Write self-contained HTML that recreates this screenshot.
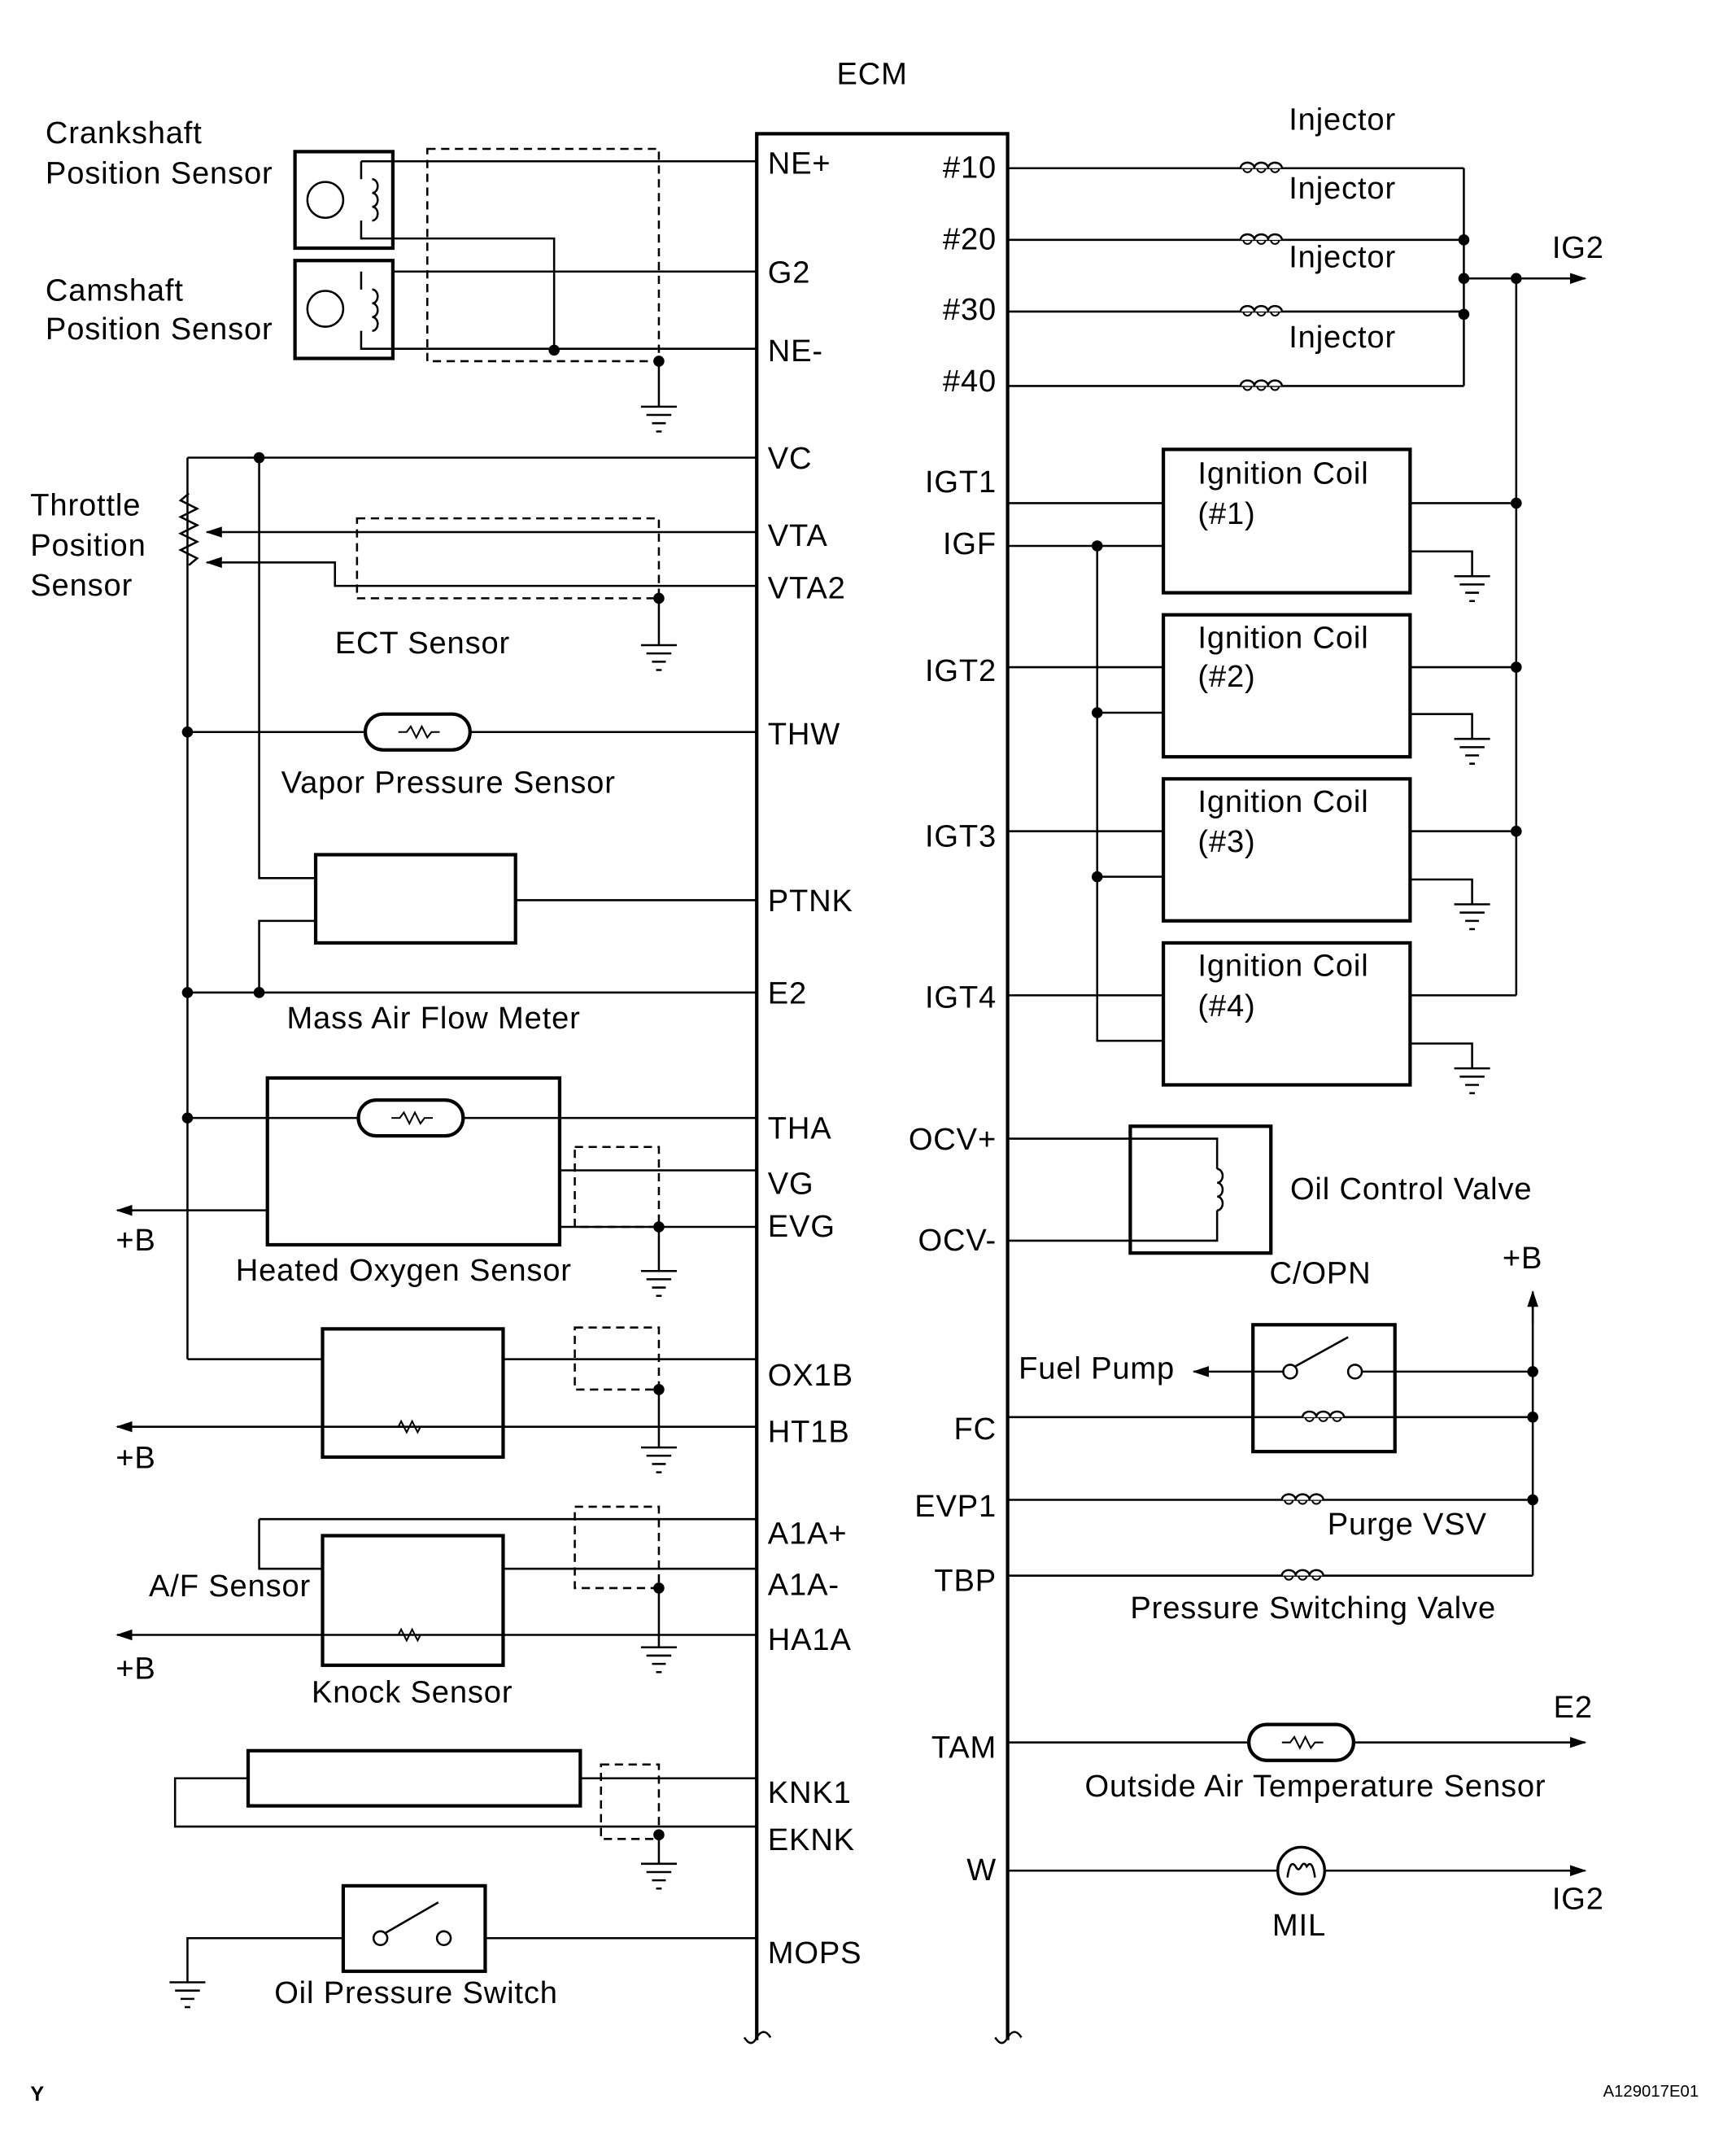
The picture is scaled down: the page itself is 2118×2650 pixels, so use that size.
<!DOCTYPE html>
<html><head><meta charset="utf-8"><style>
html,body{margin:0;padding:0;background:#fff}
svg{display:block}
text{font-family:"Liberation Sans",Arial,sans-serif;font-size:22.5px;letter-spacing:0.5px;fill:#000}
</style></head><body>
<svg width="2118" height="2650" viewBox="0 0 1250 1564" xmlns="http://www.w3.org/2000/svg">
<defs>
<symbol id="gnd" overflow="visible"><path d="M-13,0H13M-9,6H9M-5,12H5M-2,18H2" stroke="#000" stroke-width="1.5" fill="none"/></symbol>
<symbol id="coilh" overflow="visible"><path d="M0,0 a5,4 0 1,1 10,0 a5,4 0 1,1 10,0 a5,4 0 1,1 10,0" stroke="#000" stroke-width="1.5" fill="#fff"/><path d="M2,0 a3,3 0 1,0 6,0 M12,0 a3,3 0 1,0 6,0 M22,0 a3,3 0 1,0 6,0" stroke="#000" stroke-width="1.2" fill="none"/></symbol>
<symbol id="coilv" overflow="visible"><path d="M0,0 a4,5 0 1,1 0,10 a4,5 0 1,1 0,10 a4,5 0 1,1 0,10" stroke="#000" stroke-width="1.5" fill="#fff"/></symbol>
<symbol id="therm" overflow="visible"><rect x="0" y="-13" width="76" height="26" rx="13" fill="#fff" stroke="#000" stroke-width="2.5"/><path d="M24,0h6l3,-4l4,8l4,-8l4,8l3,-4h6" stroke="#000" fill="none" stroke-width="1.2"/></symbol>
<symbol id="res" overflow="visible"><path d="M-12,0h4l2,-4l4,8l4,-8l4,8l2,-4h4" stroke="#000" fill="none" stroke-width="1.2"/></symbol>
<marker id="ar" markerWidth="12" markerHeight="8" refX="11" refY="4" orient="auto" markerUnits="userSpaceOnUse"><path d="M0,0L12,4L0,8z" fill="#000"/></marker>
</defs>
<g stroke="#000" stroke-width="1.5" fill="none">
<path d="M549,1480V97H731V1480" stroke-width="2.5"/>
<path d="M540,1478q5,8 9,0q5,-8 10,0M722,1478q5,8 9,0q5,-8 10,0"/>
<rect x="214" y="110" width="71" height="70" stroke-width="2.5"/>
<rect x="214" y="189" width="71" height="71" stroke-width="2.5"/>
<circle cx="236" cy="145" r="13"/><circle cx="236" cy="224" r="13"/>
<path d="M262,117H549M262,117V130M262,160V173H402V254M262,197V210M262,240V253H549M285,197H549"/>
<rect x="310" y="108" width="168" height="154" stroke-dasharray="6,4"/>
<path d="M478,262V295"/>
<path d="M136,332H549M136,332V986M188,332V637H229M229,668H188V720M136,720H549M136,531H549M136,811H549M136,986H234"/>
<path d="M137,358l-6,5l12,6l-12,6l12,6l-12,6l12,6l-12,6l12,6l-6,5"/>
<path d="M549,386H150" marker-end="url(#ar)"/>
<path d="M549,425H243V408H150" marker-end="url(#ar)"/>
<rect x="259" y="376" width="219" height="58" stroke-dasharray="6,4"/>
<path d="M478,434V468"/>
<rect x="229" y="620" width="145" height="64" stroke-width="2.5"/>
<path d="M374,653H549"/>
<rect x="194" y="782" width="212" height="121" stroke-width="2.5"/>
<path d="M406,849H549M406,890H549"/>
<path d="M194,878H85" marker-end="url(#ar)"/>
<rect x="417" y="832" width="61" height="58" stroke-dasharray="6,4"/>
<path d="M478,890V922"/>
<rect x="234" y="964" width="131" height="93" stroke-width="2.5"/>
<path d="M365,986H549"/>
<path d="M549,1035H85" marker-end="url(#ar)"/>
<rect x="417" y="963" width="61" height="45" stroke-dasharray="6,4"/>
<path d="M478,1008V1050"/>
<rect x="234" y="1114" width="131" height="94" stroke-width="2.5"/>
<path d="M188,1102H549M188,1102V1138H234M365,1138H549"/>
<path d="M549,1186H85" marker-end="url(#ar)"/>
<rect x="417" y="1093" width="61" height="59" stroke-dasharray="6,4"/>
<path d="M478,1152V1195"/>
<rect x="180" y="1270" width="241" height="40" stroke-width="2.5"/>
<path d="M421,1290H549M180,1290H127V1325H549"/>
<rect x="436" y="1280" width="42" height="54" stroke-dasharray="6,4"/>
<path d="M478,1331V1352"/>
<rect x="249" y="1368" width="103" height="62" stroke-width="2.5"/>
<path d="M352,1406H549M249,1406H136V1438M280,1402L318,1380"/>
<circle cx="276" cy="1406" r="5" fill="#fff"/><circle cx="322" cy="1406" r="5" fill="#fff"/>
<path d="M731,122H1062M731,174H1062M731,226H1062M731,280H1062M1062,122V280M1062,202H1100"/>
<path d="M1100,202H1150" marker-end="url(#ar)"/>
<path d="M1100,202V722"/>
<rect x="844" y="326" width="179" height="104" stroke-width="2.5"/>
<rect x="844" y="446" width="179" height="103" stroke-width="2.5"/>
<rect x="844" y="565" width="179" height="103" stroke-width="2.5"/>
<rect x="844" y="684" width="179" height="103" stroke-width="2.5"/>
<path d="M731,365H844M731,396H844M796,396V755H844M796,517H844M796,636H844M731,484H844M731,603H844M731,722H844"/>
<path d="M1023,365H1100M1023,484H1100M1023,603H1100M1023,722H1100"/>
<path d="M1023,400H1068V418M1023,518H1068V536M1023,638H1068V656M1023,757H1068V775"/>
<rect x="820" y="817" width="102" height="92" stroke-width="2.5"/>
<path d="M731,826H883V848M883,878V900H731"/>
<rect x="909" y="961" width="103" height="92" stroke-width="2.5"/>
<path d="M1112,1143V940"/>
<path d="M1112,960V937" marker-end="url(#ar)"/>
<path d="M983,995H1112M731,1028H1112M731,1088H1112M731,1143H1112M940,991L978,970"/>
<path d="M931,995H866" marker-end="url(#ar)"/>
<circle cx="936" cy="995" r="5" fill="#fff"/><circle cx="983" cy="995" r="5" fill="#fff"/>
<path d="M731,1264H1150" marker-end="url(#ar)"/>
<path d="M731,1357H1150" marker-end="url(#ar)"/>
<circle cx="944" cy="1357" r="17" fill="#fff" stroke-width="2"/>
<path d="M934,1362q2,-14 6,-8q2,4 4,0q2,-4 4,0q4,-6 6,8"/>
</g>
<use href="#coilv" x="270" y="130"/><use href="#coilv" x="270" y="210"/>
<use href="#coilv" x="883" y="848"/>
<use href="#coilh" x="900" y="122"/><use href="#coilh" x="900" y="174"/><use href="#coilh" x="900" y="226"/><use href="#coilh" x="900" y="280"/>
<use href="#coilh" x="945" y="1028"/><use href="#coilh" x="930" y="1088"/><use href="#coilh" x="930" y="1143"/>
<use href="#therm" x="265" y="531"/><use href="#therm" x="260" y="811"/><use href="#therm" x="906" y="1264"/>
<use href="#res" x="297" y="1035"/><use href="#res" x="297" y="1186"/>
<use href="#gnd" x="478" y="295"/><use href="#gnd" x="478" y="468"/><use href="#gnd" x="478" y="922"/><use href="#gnd" x="478" y="1050"/><use href="#gnd" x="478" y="1195"/><use href="#gnd" x="478" y="1352"/><use href="#gnd" x="136" y="1438"/>
<use href="#gnd" x="1068" y="418"/><use href="#gnd" x="1068" y="536"/><use href="#gnd" x="1068" y="656"/><use href="#gnd" x="1068" y="775"/>
<g fill="#000">
<circle cx="402" cy="254" r="4"/><circle cx="478" cy="262" r="4"/><circle cx="188" cy="332" r="4"/><circle cx="478" cy="434" r="4"/>
<circle cx="136" cy="531" r="4"/><circle cx="136" cy="720" r="4"/><circle cx="188" cy="720" r="4"/><circle cx="136" cy="811" r="4"/>
<circle cx="478" cy="890" r="4"/><circle cx="478" cy="1008" r="4"/><circle cx="478" cy="1152" r="4"/><circle cx="478" cy="1331" r="4"/>
<circle cx="1062" cy="174" r="4"/><circle cx="1062" cy="228" r="4"/><circle cx="1062" cy="202" r="4"/><circle cx="1100" cy="202" r="4"/>
<circle cx="1100" cy="365" r="4"/><circle cx="1100" cy="484" r="4"/><circle cx="1100" cy="603" r="4"/>
<circle cx="796" cy="396" r="4"/><circle cx="796" cy="517" r="4"/><circle cx="796" cy="636" r="4"/>
<circle cx="1112" cy="995" r="4"/><circle cx="1112" cy="1028" r="4"/><circle cx="1112" cy="1088" r="4"/>
</g>
<text x="607" y="61">ECM</text>
<text x="33" y="104">Crankshaft</text><text x="33" y="133">Position Sensor</text>
<text x="33" y="218">Camshaft</text><text x="33" y="246">Position Sensor</text>
<text x="22" y="374">Throttle</text><text x="22" y="403">Position</text><text x="22" y="432">Sensor</text>
<text x="243" y="474">ECT Sensor</text>
<text x="204" y="575">Vapor Pressure Sensor</text>
<text x="208" y="746">Mass Air Flow Meter</text>
<text x="84" y="907">+B</text>
<text x="171" y="929">Heated Oxygen Sensor</text>
<text x="84" y="1065">+B</text>
<text x="108" y="1158">A/F Sensor</text>
<text x="84" y="1218">+B</text>
<text x="226" y="1235">Knock Sensor</text>
<text x="199" y="1453">Oil Pressure Switch</text>
<g>
<text x="557" y="126">NE+</text><text x="557" y="205">G2</text><text x="557" y="262">NE-</text>
<text x="557" y="340">VC</text><text x="557" y="396">VTA</text><text x="557" y="434">VTA2</text>
<text x="557" y="540">THW</text><text x="557" y="661">PTNK</text><text x="557" y="728">E2</text>
<text x="557" y="826">THA</text><text x="557" y="866">VG</text><text x="557" y="897">EVG</text>
<text x="557" y="1005">OX1B</text><text x="557" y="1046">HT1B</text><text x="557" y="1120">A1A+</text>
<text x="557" y="1157">A1A-</text><text x="557" y="1197">HA1A</text><text x="557" y="1308">KNK1</text>
<text x="557" y="1342">EKNK</text><text x="557" y="1424">MOPS</text>
</g>
<g text-anchor="end">
<text x="723" y="129">#10</text><text x="723" y="181">#20</text><text x="723" y="232">#30</text><text x="723" y="284">#40</text>
<text x="723" y="357">IGT1</text><text x="723" y="402">IGF</text><text x="723" y="494">IGT2</text><text x="723" y="614">IGT3</text>
<text x="723" y="731">IGT4</text><text x="723" y="834">OCV+</text><text x="723" y="907">OCV-</text><text x="723" y="1044">FC</text>
<text x="723" y="1100">EVP1</text><text x="723" y="1154">TBP</text><text x="723" y="1275">TAM</text><text x="723" y="1364">W</text>
</g>
<text x="935" y="94">Injector</text><text x="935" y="144">Injector</text><text x="935" y="194">Injector</text><text x="935" y="252">Injector</text>
<text x="1126" y="187">IG2</text>
<text x="869" y="351">Ignition Coil</text><text x="869" y="380">(#1)</text>
<text x="869" y="470">Ignition Coil</text><text x="869" y="498">(#2)</text>
<text x="869" y="589">Ignition Coil</text><text x="869" y="618">(#3)</text>
<text x="869" y="708">Ignition Coil</text><text x="869" y="737">(#4)</text>
<text x="936" y="870">Oil Control Valve</text>
<text x="921" y="931">C/OPN</text><text x="1090" y="920">+B</text>
<text x="739" y="1000">Fuel Pump</text>
<text x="963" y="1113">Purge VSV</text>
<text x="820" y="1174">Pressure Switching  Valve</text>
<text x="1127" y="1246">E2</text>
<text x="787" y="1303">Outside Air Temperature Sensor</text>
<text x="1126" y="1385">IG2</text>
<text x="923" y="1404">MIL</text>
<text x="22" y="1524" style="font-size:15px;font-weight:bold;letter-spacing:0">Y</text>
<text x="1163" y="1521" style="font-size:12px;letter-spacing:0">A129017E01</text>
</svg>
</body></html>
